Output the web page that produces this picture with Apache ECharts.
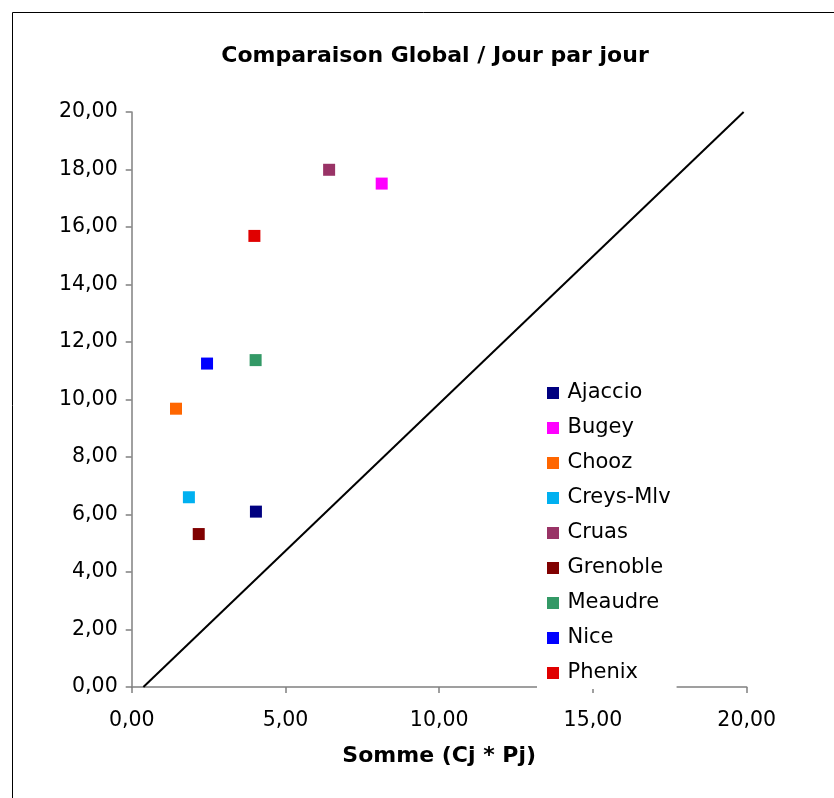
<!DOCTYPE html>
<html><head><meta charset="utf-8">
<script src="https://cdn.jsdelivr.net/npm/echarts@6/dist/echarts.min.js"></script>
<style>html,body{margin:0;padding:0;background:#fff}#c{width:834px;height:798px}</style>
</head><body><div id="c"></div>
<script>
const names = ['Ajaccio','Bugey','Chooz','Creys-Mlv','Cruas','Grenoble','Meaudre','Nice','Phenix'];
const xVals = [4.04, 8.13, 1.44, 1.86, 6.42, 2.18, 4.03, 2.45, 3.99];
const yVals = [6.10, 17.51, 9.68, 6.60, 17.99, 5.32, 11.37, 11.25, 15.69];
const colors = ['#000080','#FF00FF','#FF6600','#00B0F0','#993366','#800000','#339966','#0000FF','#E00000'];
const refLineX = [0.38, 19.9];
const refLineY = [0, 20];

const fmt = v => v.toFixed(2).replace('.', ',');
const FONT = 'DejaVu Sans';
const series = names.map((n, i) => ({
  name: n, type: 'scatter', symbol: 'rect', symbolSize: 12,
  itemStyle: { color: colors[i], opacity: 1 },
  data: [[xVals[i], yVals[i]]]
}));
series.push({
  name: 'ref', type: 'line', showSymbol: false, symbol: 'none',
  lineStyle: { color: '#000', width: 2 }, z: 1,
  data: refLineX.map((x, i) => [x, refLineY[i]])
});

const chart = echarts.init(document.getElementById('c'));
chart.setOption({
  animation: false,
  backgroundColor: '#fff',
  textStyle: { fontFamily: FONT },
  graphic: [{ type: 'rect', shape: { x: 12.5, y: 12.5, width: 840, height: 800 },
    style: { fill: 'none', stroke: '#000', lineWidth: 1 }, z: 100 }],
  title: { text: 'Comparaison Global / Jour par jour', left: 430, top: 40, textAlign: 'center',
    textStyle: { fontFamily: FONT, fontWeight: 'bold', fontSize: 22, color: '#000' } },
  grid: { left: 131.7, right: 87.3, top: 112, bottom: 111 },
  xAxis: {
    type: 'value', min: 0, max: 20, interval: 5,
    name: 'Somme (Cj * Pj)', nameLocation: 'middle', nameGap: 58,
    nameTextStyle: { fontFamily: FONT, fontWeight: 'bold', fontSize: 22, color: '#000' },
    axisLine: { lineStyle: { color: '#808080', width: 1.5 } },
    axisTick: { show: true, length: 6, lineStyle: { color: '#808080', width: 1.5 } },
    axisLabel: { formatter: fmt, margin: 23, fontFamily: FONT, fontSize: 20.5, color: '#000' },
    splitLine: { show: false }
  },
  yAxis: {
    type: 'value', min: 0, max: 20, interval: 2,
    axisLine: { show: true, lineStyle: { color: '#808080', width: 1.5 } },
    axisTick: { show: true, length: 6, lineStyle: { color: '#808080', width: 1.5 } },
    axisLabel: { formatter: fmt, margin: 14, fontFamily: FONT, fontSize: 20.5, color: '#000' },
    splitLine: { show: false }
  },
  legend: {
    orient: 'vertical', left: 537, top: 378.5,
    data: names, icon: 'rect', itemWidth: 12, itemHeight: 12, itemGap: 14,
    padding: [4, 6, 5.5, 10], backgroundColor: '#fff',
    textStyle: { fontFamily: FONT, fontSize: 21, lineHeight: 21, color: '#000', padding: [0, 0, 0, 3.5] }
  },
  series: series
});
</script></body></html>
